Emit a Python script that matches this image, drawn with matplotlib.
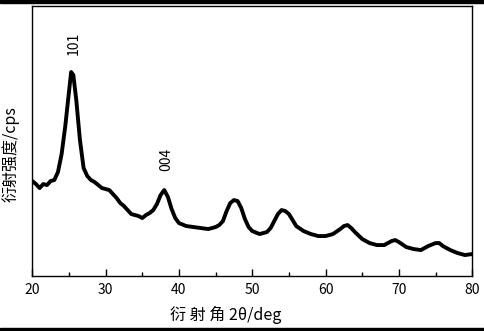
import matplotlib
matplotlib.use("Agg")
import matplotlib.pyplot as plt
from matplotlib.patches import Rectangle
from matplotlib.ticker import MultipleLocator

plt.rcParams['font.family'] = ['Noto Sans CJK SC', 'DejaVu Sans']

# XRD pattern (2theta in deg, intensity in arbitrary units)
two_theta = [20.0, 20.5, 21.0, 21.5, 22.0, 22.5, 23.0, 23.5, 24.0, 24.5,
             25.0, 25.3, 25.6, 26.0, 26.5, 27.0, 27.5, 28.0, 28.5, 29.0,
             29.5, 30.0, 30.5, 31.0, 31.5, 32.0, 32.5, 33.0, 33.5, 34.0,
             34.5, 35.0, 35.5, 36.0, 36.5, 37.0, 37.5, 38.0, 38.5, 39.0,
             39.5, 40.0, 41.0, 42.0, 43.0, 44.0, 45.0, 45.5, 46.0, 46.5,
             47.0, 47.5, 48.0, 48.5, 49.0, 49.5, 50.0, 51.0, 52.0, 52.5,
             53.0, 53.5, 54.0, 54.5, 55.0, 55.5, 56.0, 57.0, 58.0, 59.0,
             60.0, 61.0, 62.0, 62.5, 63.0, 63.5, 64.0, 65.0, 66.0, 67.0,
             68.0, 69.0, 69.5, 70.0, 71.0, 72.0, 73.0, 74.0, 75.0, 75.5,
             76.0, 77.0, 78.0, 79.0, 80.0]
intensity = [95, 92, 88, 92, 91, 95, 96, 104, 122, 150,
             184, 204, 201, 176, 136, 108, 100, 96, 94, 91,
             88, 87, 86, 82, 78, 73, 70, 66, 62, 61,
             60, 58, 61, 63, 66, 72, 81, 86, 79, 67,
             58, 53, 50, 49, 48, 47, 49, 51, 55, 65,
             73, 76, 75, 68, 57, 49, 45, 42, 44, 48,
             55, 62, 66, 65, 62, 56, 50, 45, 42, 40,
             40, 42, 47, 50, 51, 48, 44, 37, 33, 31,
             31, 35, 36, 34, 29, 27, 26, 30, 33, 33,
             30, 26, 23, 21, 22]

peak_labels = ["101", "004"]
peak_x = [25.7, 38.3]
peak_y = [233, 117]

fig = plt.figure(figsize=(4.84, 3.31), dpi=100)
ax = fig.add_axes([0.0667, 0.166, 0.909, 0.8157])

ax.plot(two_theta, intensity, color="black", linewidth=2.8)

for lab, px, py in zip(peak_labels, peak_x, peak_y):
    ax.text(px, py, lab, rotation=90, ha="center", va="center", fontsize=10)

ax.set_xlim(20, 80)
ax.set_ylim(0, 270)
ax.xaxis.set_major_locator(MultipleLocator(10))
ax.xaxis.set_minor_locator(MultipleLocator(5))
ax.tick_params(axis="x", which="major", direction="in", length=5, width=1,
               labelsize=10, pad=5)
ax.tick_params(axis="x", which="minor", direction="in", length=3, width=1)
ax.set_yticks([])
for s in ax.spines.values():
    s.set_linewidth(1)

ax.set_xlabel("衍 射 角 2θ/deg", fontsize=11.5)
ax.xaxis.set_label_coords(0.44, -0.11)
ax.set_ylabel("衍射强度/cps", fontsize=11.5)
ax.yaxis.set_label_coords(-0.028, 0.45)

# dark scan edges at top and bottom
fig.patches.append(Rectangle((0, 0.992), 1, 0.008, transform=fig.transFigure,
                             color="black", zorder=10))
fig.patches.append(Rectangle((0, 0), 1, 0.009, transform=fig.transFigure,
                             color="black", zorder=10))

plt.savefig("out.png", dpi=100)
